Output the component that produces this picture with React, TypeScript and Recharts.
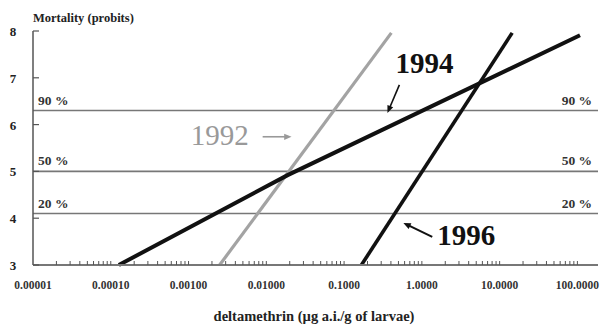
import React from 'react';
import { LineChart, Line, XAxis, YAxis, ReferenceLine, ReferenceDot } from 'recharts';

const majorTicks = [0.00001, 0.0001, 0.001, 0.01, 0.1, 1, 10, 100];
const majorLabels = ['0.00001', '0.00010', '0.00100', '0.01000', '0.1000', '1.0000', '10.0000', '100.0000'];
const minorMultipliers = [2, 3, 4, 5, 6, 7, 8, 9];
const yTicks = [3, 4, 5, 6, 7, 8];

const line1992 = [{ x: 0.00251, y: 3 }, { x: 0.405, y: 7.96 }];
const line1994 = [{ x: 0.000127, y: 3 }, { x: 0.0188, y: 4.92 }, { x: 108, y: 7.91 }];
const line1996 = [{ x: 0.167, y: 3 }, { x: 14.5, y: 7.96 }];

const levels = [6.3, 5.0, 4.1];
const levelLabels = ['90 %', '50 %', '20 %'];

const yearLabels = [
  { text: '1994', x: 0.457, y: 7.1, color: '#111', weight: 'bold' },
  { text: '1992', x: 0.00107, y: 5.56, color: '#999', weight: 'normal' },
  { text: '1996', x: 1.58, y: 3.43, color: '#111', weight: 'bold' },
];
const arrows = [
  { x1: 0.514, y1: 6.85, x2: 0.361, y2: 6.25, color: '#111', w: 1.6 },
  { x1: 0.00897, y1: 5.74, x2: 0.0211, y2: 5.74, color: '#999', w: 1.6 },
  { x1: 1.36, y1: 3.6, x2: 0.579, y2: 3.9, color: '#111', w: 2 },
];

const X_MIN = 0.00001;
const X_MAX = 184;
const FONT = '"Liberation Serif", "Times New Roman", serif';

const allXTicks: number[] = [];
majorTicks.forEach((m) => {
  allXTicks.push(m);
  minorMultipliers.forEach((k) => {
    const v = m * k;
    if (v <= X_MAX) allXTicks.push(v);
  });
});

const XTick = (props: any) => {
  const { x, y, payload } = props;
  const v = payload.value;
  const idx = majorTicks.findIndex((t) => Math.abs(t - v) / t < 1e-6);
  return (
    <g>
      {v > X_MIN * 1.01 && <line x1={x} x2={x} y1={y} y2={y - 4} stroke="#555" strokeWidth={1} />}
      {idx >= 0 && (
        <text x={x} y={y + 24} textAnchor="middle" fontFamily={FONT} fontWeight="bold" fontSize={11.5} fill="#333">
          {majorLabels[idx]}
        </text>
      )}
    </g>
  );
};

const YTick = (props: any) => {
  const { x, y, payload } = props;
  return (
    <g>
      <line x1={x} x2={x + 6} y1={y} y2={y} stroke="#555" strokeWidth={1.2} />
      <text x={x - 20} y={y + 5} textAnchor="middle" fontFamily={FONT} fontWeight="bold" fontSize={13} fill="#222">
        {payload.value}
      </text>
    </g>
  );
};

const makeLevelLabel = (text: string) => (props: any) => {
  const vb = props.viewBox || {};
  const x = vb.x ?? 0;
  const y = vb.y ?? 0;
  const w = vb.width ?? 0;
  return (
    <g>
      <text x={x + 5} y={y - 6} textAnchor="start" fontFamily={FONT} fontWeight="bold" fontSize={13.5} fill="#333">
        {text}
      </text>
      <text x={x + w - 6} y={y - 6} textAnchor="end" fontFamily={FONT} fontWeight="bold" fontSize={13.5} fill="#333">
        {text}
      </text>
    </g>
  );
};

const makeArrow = (color: string, w: number) => (props: any) => {
  const { x1, y1, x2, y2 } = props;
  if ([x1, y1, x2, y2].some((v) => typeof v !== 'number' || isNaN(v))) return <g />;
  const ang = Math.atan2(y2 - y1, x2 - x1);
  const len = 8;
  const spread = 0.4;
  const ax = x2 - len * Math.cos(ang - spread);
  const ay = y2 - len * Math.sin(ang - spread);
  const bx = x2 - len * Math.cos(ang + spread);
  const by = y2 - len * Math.sin(ang + spread);
  return (
    <g>
      <line x1={x1} y1={y1} x2={x2 - 4 * Math.cos(ang)} y2={y2 - 4 * Math.sin(ang)} stroke={color} strokeWidth={w} />
      <polygon points={`${x2},${y2} ${ax},${ay} ${bx},${by}`} fill={color} />
    </g>
  );
};

const makeText = (text: string, color: string, weight: string) => (props: any) => {
  const { cx, cy } = props;
  return (
    <text x={cx} y={cy} textAnchor="start" fontFamily={FONT} fontWeight={weight} fontSize={29} fill={color}>
      {text}
    </text>
  );
};

export default function App() {
  return (
    <div style={{ position: 'absolute', left: 0, top: 0, width: 601, height: 329, background: '#fff' }}>
      <LineChart width={601} height={329} margin={{ top: 31, right: 3, bottom: 0, left: 0 }}>
        <XAxis
          type="number"
          dataKey="x"
          scale="log"
          domain={[X_MIN, X_MAX]}
          allowDataOverflow
          ticks={allXTicks}
          interval={0}
          tick={<XTick />}
          tickLine={false}
          tickSize={0}
          tickMargin={0}
          height={64}
          axisLine={{ stroke: '#777', strokeWidth: 2 }}
        />
        <YAxis
          type="number"
          dataKey="y"
          domain={[3, 8]}
          ticks={yTicks}
          interval={0}
          tick={<YTick />}
          tickLine={false}
          tickSize={0}
          tickMargin={0}
          width={33}
          axisLine={{ stroke: '#555', strokeWidth: 1.5 }}
        />
        {levels.map((lv, i) => (
          <ReferenceLine key={'lv' + i} y={lv} stroke="#777" strokeWidth={1.6} label={makeLevelLabel(levelLabels[i])} />
        ))}
        <Line data={line1992} dataKey="y" stroke="#a3a3a3" strokeWidth={3.2} dot={false} isAnimationActive={false} />
        <Line data={line1994} dataKey="y" stroke="#111" strokeWidth={4} dot={false} isAnimationActive={false} />
        <Line data={line1996} dataKey="y" stroke="#111" strokeWidth={3.6} dot={false} isAnimationActive={false} />
        {arrows.map((a, i) => (
          <ReferenceLine
            key={'ar' + i}
            segment={[{ x: a.x1, y: a.y1 }, { x: a.x2, y: a.y2 }]}
            shape={makeArrow(a.color, a.w)}
          />
        ))}
        {yearLabels.map((t, i) => (
          <ReferenceDot key={'yl' + i} x={t.x} y={t.y} r={0} shape={makeText(t.text, t.color, t.weight)} />
        ))}
      </LineChart>
      <svg width={601} height={329} style={{ position: 'absolute', left: 0, top: 0, pointerEvents: 'none' }}>
        <text x={33} y={22} fontFamily={FONT} fontWeight="bold" fontSize={12.5} fill="#222">
          Mortality (probits)
        </text>
        <text x={314} y={321} textAnchor="middle" fontFamily={FONT} fontWeight="bold" fontSize={14.5} fill="#222">
          deltamethrin (µg a.i./g of larvae)
        </text>
      </svg>
    </div>
  );
}
